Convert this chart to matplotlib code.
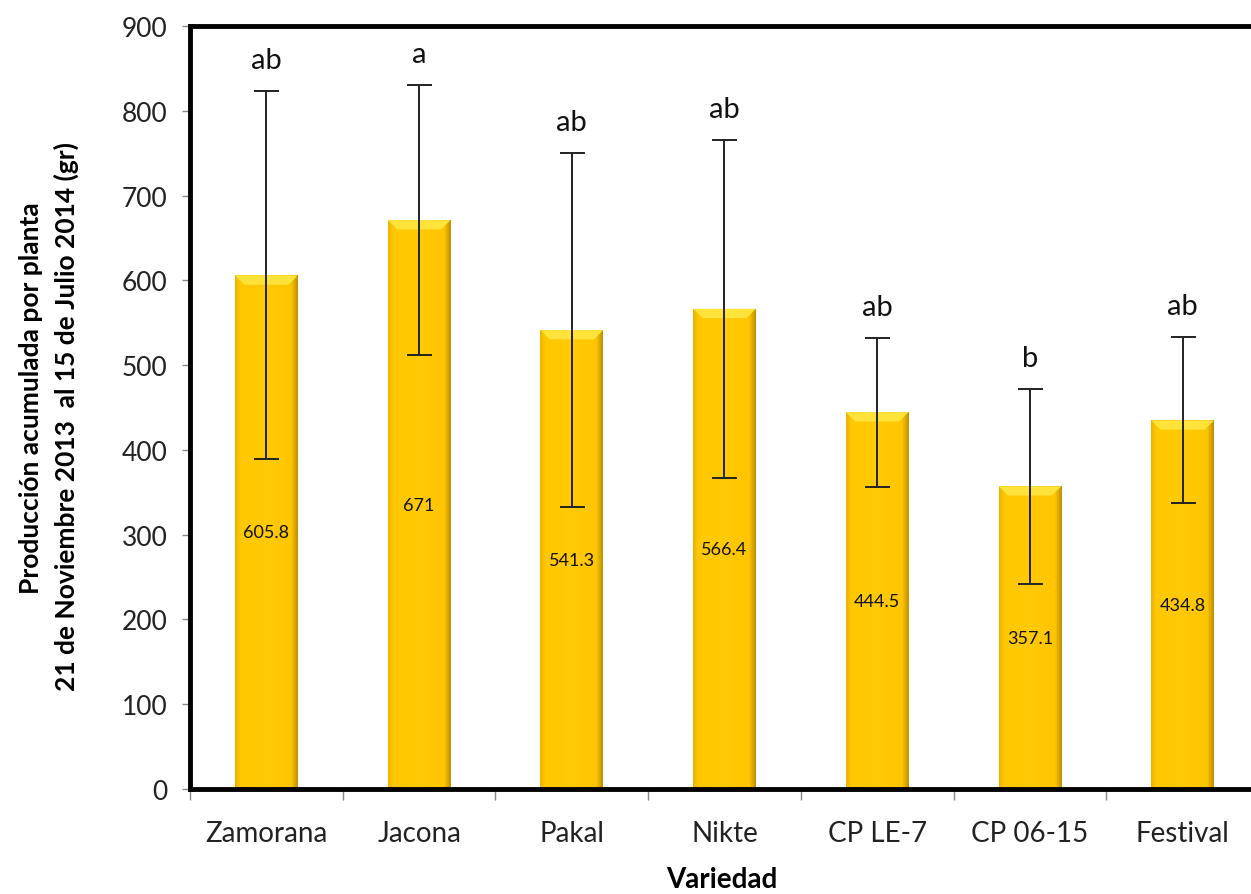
import numpy as np
import matplotlib
matplotlib.use("Agg")
import matplotlib.pyplot as plt
from matplotlib.colors import LinearSegmentedColormap

variedades = ["Zamorana", "Jacona", "Pakal", "Nikte", "CP LE-7", "CP 06-15", "Festival"]
produccion = [605.8, 671, 541.3, 566.4, 444.5, 357.1, 434.8]
desv = [217, 159, 209, 199, 88, 115, 98]
letras = ["ab", "a", "ab", "ab", "ab", "b", "ab"]

plt.rcParams["font.family"] = ["Lato", "DejaVu Sans"]

fig = plt.figure(figsize=(12.51, 8.95), dpi=100)
ax = fig.add_axes([190 / 1251, 105 / 895, 1069 / 1251, 763 / 895])

x = np.arange(len(variedades))
width = 0.41
bars = ax.bar(x, produccion, width=width, color="#FFC800", edgecolor="none", zorder=2)

# horizontal shading to mimic the bevelled Excel bars
cmap = LinearSegmentedColormap.from_list(
    "gold", [(0, "#EDB500"), (0.08, "#FFC800"), (0.5, "#FFCA04"),
             (0.9, "#FFC500"), (1, "#BF9200")])
grad = np.linspace(0, 1, 64).reshape(1, -1)
for b in bars:
    x0, w, h = b.get_x(), b.get_width(), b.get_height()
    im = ax.imshow(grad, extent=[x0, x0 + w, 0, h], aspect="auto", cmap=cmap,
                   zorder=2.5, origin="lower")
    im.set_clip_path(b)
    # light bevel at the top of each bar
    ax.fill([x0, x0 + w, x0 + w * 0.85, x0 + w * 0.15],
            [h, h, h - 11, h - 11], color="#FFE23A", zorder=2.6, lw=0)

ax.errorbar(x, produccion, yerr=desv, fmt="none", ecolor="#222222",
            elinewidth=1.4, capsize=9, capthick=1.4, zorder=4)

for xi, v, d, l in zip(x, produccion, desv, letras):
    ax.annotate(l, (xi, v + d), xytext=(0, 13), textcoords="offset points",
                ha="center", va="bottom", fontsize=21, color="#111111")
    ax.text(xi, v / 2, f"{v:g}", ha="center", va="center", fontsize=13,
            color="#111111", zorder=5)

ax.set_xlim(-0.5, len(variedades) - 0.5)
ax.set_ylim(0, 900)
ax.set_yticks(range(0, 901, 100))
ax.tick_params(axis="y", labelsize=19, length=6, width=1, color="#888888",
               pad=10, labelcolor="#222222")
ax.set_xticks(x)
ax.set_xticklabels(variedades)
ax.tick_params(axis="x", which="major", length=0, labelsize=20, pad=22,
               labelcolor="#222222")
ax.set_xticks(np.arange(-0.5, len(variedades), 1), minor=True)
ax.tick_params(axis="x", which="minor", length=8, width=1, color="#888888")

for s in ["left", "top", "bottom"]:
    ax.spines[s].set_linewidth(3.5)
    ax.spines[s].set_color("black")
ax.spines["right"].set_visible(False)

fig.text(0.025, 0.555, "Producción acumulada por planta", rotation=90,
         ha="center", va="center", fontsize=19, fontweight="bold")
fig.text(0.053, 0.535, "21 de Noviembre 2013  al 15 de Julio 2014 (gr)", rotation=90,
         ha="center", va="center", fontsize=19, fontweight="bold")
fig.text(722 / 1251, 1 - 880 / 895, "Variedad", ha="center", va="center",
         fontsize=20, fontweight="bold")

fig.savefig("out.png", dpi=100)
